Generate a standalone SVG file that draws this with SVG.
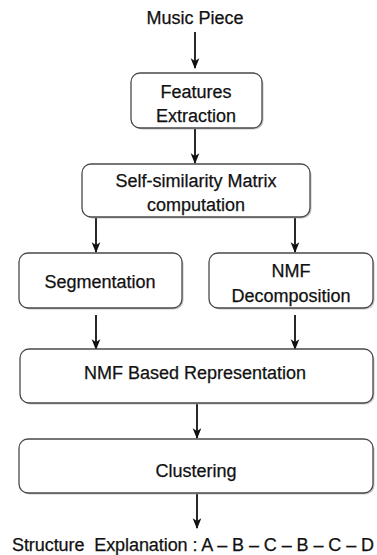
<svg xmlns="http://www.w3.org/2000/svg" width="377" height="555" viewBox="0 0 377 555">
  <style>
    .box { fill: #ffffff; stroke: #4a4a4a; stroke-width: 1.3; }
    .shadow { fill: #8a8a8a; opacity: 0.5; }
    .lbl { font-family: "Liberation Sans", Arial, sans-serif; font-size: 18px; fill: #111111; stroke: #111111; stroke-width: 0.25; text-anchor: middle; }
    .edge { stroke: #111111; stroke-width: 1.8; fill: none; marker-end: url(#arrow); }
  </style>
  <defs>
    <marker id="arrow" viewBox="0 0 10 10" refX="9" refY="5" markerWidth="6" markerHeight="6" orient="auto" markerUnits="strokeWidth">
      <path d="M0,1 L10,5 L0,9 L2.5,5 Z" fill="#111111"/>
    </marker>
  </defs>
  <rect width="377" height="555" fill="#ffffff"/>

  <g id="connectors">
    <line class="edge" x1="195" y1="32" x2="195" y2="68"/>
    <line class="edge" x1="195" y1="129" x2="195" y2="163"/>
    <line class="edge" x1="96" y1="218" x2="96" y2="252"/>
    <line class="edge" x1="295" y1="218" x2="295" y2="252"/>
    <line class="edge" x1="96" y1="315" x2="96" y2="349"/>
    <line class="edge" x1="295" y1="315" x2="295" y2="349"/>
    <line class="edge" x1="197" y1="404" x2="197" y2="438"/>
    <line class="edge" x1="197" y1="494" x2="197" y2="528"/>
  </g>

  <g id="music-piece">
    <text class="lbl" x="195" y="24">Music Piece</text>
  </g>

  <g id="features-extraction">
    <rect class="shadow" x="132.5" y="74.5" width="131" height="55" rx="9"/>
    <rect class="box" x="131" y="73" width="131" height="55" rx="9"/>
    <text class="lbl" x="196" y="98">Features</text>
    <text class="lbl" x="196" y="122">Extraction</text>
  </g>

  <g id="self-similarity">
    <rect class="shadow" x="83.5" y="165.5" width="228" height="53" rx="9"/>
    <rect class="box" x="82" y="164" width="228" height="53" rx="9"/>
    <text class="lbl" x="196" y="187">Self-similarity Matrix</text>
    <text class="lbl" x="196" y="211">computation</text>
  </g>

  <g id="segmentation">
    <rect class="shadow" x="20.5" y="254.5" width="163" height="55" rx="9"/>
    <rect class="box" x="19" y="253" width="163" height="55" rx="9"/>
    <text class="lbl" x="100" y="288">Segmentation</text>
  </g>

  <g id="nmf-decomposition">
    <rect class="shadow" x="210.5" y="254.5" width="164" height="55" rx="9"/>
    <rect class="box" x="209" y="253" width="164" height="55" rx="9"/>
    <text class="lbl" x="291" y="277">NMF</text>
    <text class="lbl" x="291" y="302">Decomposition</text>
  </g>

  <g id="nmf-representation">
    <rect class="shadow" x="21.5" y="350.5" width="353" height="54" rx="9"/>
    <rect class="box" x="20" y="349" width="353" height="54" rx="9"/>
    <text class="lbl" x="195" y="379">NMF Based Representation</text>
  </g>

  <g id="clustering">
    <rect class="shadow" x="20.5" y="440.5" width="354" height="54" rx="9"/>
    <rect class="box" x="19" y="439" width="354" height="54" rx="9"/>
    <text class="lbl" x="196" y="477">Clustering</text>
  </g>

  <g id="structure-explanation">
    <text class="lbl" x="193" y="551" textLength="362" lengthAdjust="spacing" xml:space="preserve">Structure  Explanation : A – B – C – B – C – D</text>
  </g>
</svg>
